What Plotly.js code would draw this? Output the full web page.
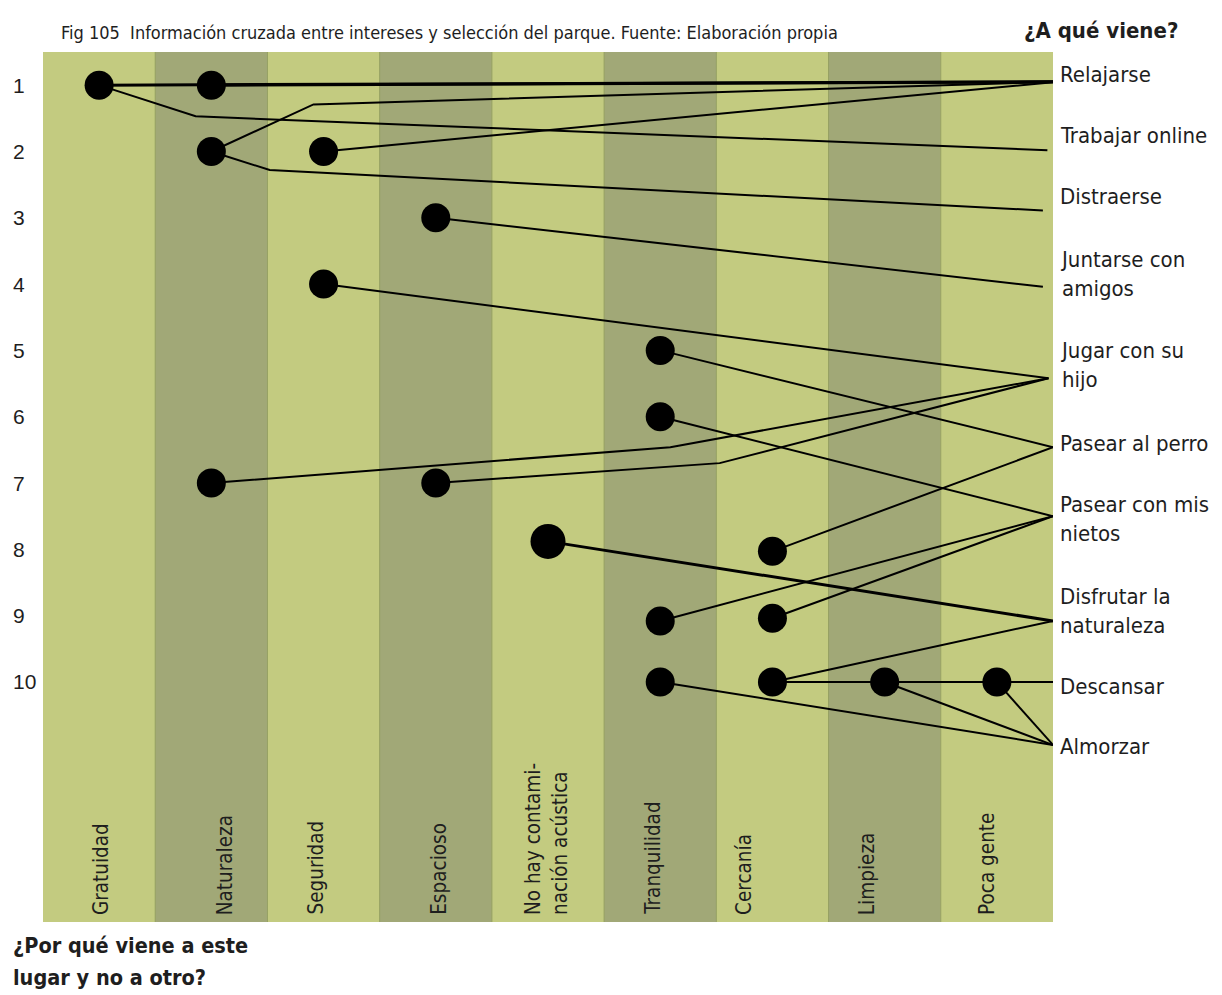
<!DOCTYPE html>
<html>
<head>
<meta charset="utf-8">
<script src="https://cdn.plot.ly/plotly-3.0.1.min.js"></script>
<style>html,body{margin:0;padding:0;background:#fff;}#chart{width:1222px;height:995px;}</style>
</head>
<body>
<div id="chart"></div>
<script>
// ---------- data ----------
const columns = ['Gratuidad', 'Naturaleza', 'Seguridad', 'Espacioso', 'No hay contami-<br>nación acústica', 'Tranquilidad', 'Cercanía', 'Limpieza', 'Poca gente'];
const rowLabels = ['1', '2', '3', '4', '5', '6', '7', '8', '9', '10'];
const activities = ['Relajarse', 'Trabajar online', 'Distraerse', 'Juntarse con<br>amigos', 'Jugar con su<br>hijo', 'Pasear al perro', 'Pasear con mis<br>nietos', 'Disfrutar la<br>naturaleza', 'Descansar', 'Almorzar'];
// where the links meet each activity (x in column units, y in row units)
const activityX = [8.53, 8.45, 8.41, 8.41, 8.46, 8.5, 8.5, 8.5, 8.53, 8.5];
const activityY = [0.95, 1.98, 2.89, 4.04, 5.42, 6.46, 7.50, 9.08, 10.0, 10.95];
// dots: column index and row
const dotCol = [0, 1, 1, 2, 3, 2, 5, 5, 1, 3, 4, 6, 5, 6, 5, 6, 7, 8];
const dotRow = [1, 1, 2, 2, 3, 4, 5, 6, 7, 7, 7.88, 8.03, 9.08, 9.04, 10, 10, 10, 10];
// links: from dot -> to activity, with optional bend point
const linkFrom = [0, 1, 0, 2, 3, 2, 4, 5, 6, 7, 8, 9, 10, 11, 12, 13, 15, 15, 14, 16, 17];
const linkTo   = [0, 0, 1, 0, 0, 2, 3, 4, 5, 6, 4, 4, 7, 5, 6, 6, 7, 8, 9, 9, 9];
const linkBendX = [null, null, 0.86, 1.91, null, 1.52, null, null, null, null, 5.09, 5.53, null, null, null, null, null, null, null, null, null];
const linkBendY = [null, null, 1.47, 1.29, null, 2.28, null, null, null, null, 6.46, 6.70, null, null, null, null, null, null, null, null, null];

// ---------- layout helpers ----------
const L = 43, R = 1053, T = 52, B = 922, W = 1222, H = 995;
const px = x => (x - L) / (R - L);
const py = y => (B - y) / (B - T);
const FONT = '"DejaVu Sans Condensed", "Liberation Sans Narrow", sans-serif';
const NUMFONT = '"Liberation Sans", Arial, sans-serif';
const TXT = '#1e1e1e';
const thick = new Set([0, 1, 12]);

const traces = [];
linkFrom.forEach((d, i) => {
  const xs = [dotCol[d]], ys = [dotRow[d]];
  if (linkBendX[i] !== null) { xs.push(linkBendX[i]); ys.push(linkBendY[i]); }
  xs.push(activityX[linkTo[i]]); ys.push(activityY[linkTo[i]]);
  traces.push({
    type: 'scatter', mode: 'lines', x: xs, y: ys, hoverinfo: 'skip',
    line: {color: '#000', width: thick.has(i) ? 3 : 2}, cliponaxis: false
  });
});
traces.push({
  type: 'scatter', mode: 'markers', x: dotCol, y: dotRow, hoverinfo: 'skip', opacity: 1,
  marker: {color: '#000', opacity: 1, size: dotRow.map((r, i) => i === 10 ? 35 : 29), line: {width: 0}},
  cliponaxis: false
});

const shapes = [];
columns.forEach((c, i) => {
  shapes.push({type: 'rect', xref: 'x', yref: 'paper', x0: i - 0.5, x1: i + 0.5, y0: 0, y1: 1,
    fillcolor: i % 2 === 0 ? '#c3cb80' : '#a1a877', line: {width: 0}, layer: 'below'});
});
for (let i = 1; i < columns.length; i++) {
  shapes.push({type: 'line', xref: 'x', yref: 'paper', x0: i - 0.5, x1: i - 0.5, y0: 0, y1: 1,
    line: {color: '#95a063', width: 1}, layer: 'below'});
}

const annotations = [];
const colShift = [2, 14, -8, 3, -2, -8, -29, -18, -10];
columns.forEach((c, i) => {
  annotations.push({xref: 'x', yref: 'paper', x: i, y: py(917), xshift: colShift[i],
    text: c, textangle: -90, showarrow: false, xanchor: 'center', yanchor: 'bottom', align: 'left',
    font: {family: FONT, size: 20.5, color: TXT}});
});
rowLabels.forEach((r, i) => {
  annotations.push({xref: 'paper', yref: 'y', x: px(11), y: i + 1, text: r, showarrow: false,
    xanchor: 'left', yanchor: 'middle', font: {family: NUMFONT, size: 21, color: TXT}});
});
const labelPY = [75, 136, 197, 274, 365, 443, 519, 611, 686, 746];
activities.forEach((a, i) => {
  annotations.push({xref: 'paper', yref: 'paper', x: px(1058), y: py(labelPY[i]), text: a, showarrow: false,
    xanchor: 'left', yanchor: 'middle', align: 'left', font: {family: FONT, size: 22, color: TXT}});
});
annotations.push({xref: 'paper', yref: 'paper', x: px(1022), y: py(30), text: '<b>¿A qué viene?</b>', showarrow: false,
  xanchor: 'left', yanchor: 'middle', font: {family: FONT, size: 22, color: TXT}});
annotations.push({xref: 'paper', yref: 'paper', x: px(59), y: py(33), text: 'Fig 105\u00a0 Información cruzada entre intereses y selección del parque. Fuente: Elaboración propia', showarrow: false,
  xanchor: 'left', yanchor: 'middle', font: {family: FONT, size: 18, color: TXT}});
annotations.push({xref: 'paper', yref: 'paper', x: px(11), y: py(945), text: '<b>¿Por qué viene a este</b>', showarrow: false,
  xanchor: 'left', yanchor: 'middle', font: {family: FONT, size: 21.5, color: TXT}});
annotations.push({xref: 'paper', yref: 'paper', x: px(11), y: py(977), text: '<b>lugar y no a otro?</b>', showarrow: false,
  xanchor: 'left', yanchor: 'middle', font: {family: FONT, size: 21.5, color: TXT}});

const layout = {
  width: W, height: H,
  margin: {l: L, r: W - R, t: T, b: H - B, pad: 0},
  paper_bgcolor: '#ffffff', plot_bgcolor: '#c3cb80',
  showlegend: false,
  xaxis: {range: [-0.5, 8.5], visible: false, fixedrange: true},
  yaxis: {range: [13.62, 0.5], visible: false, fixedrange: true},
  shapes: shapes, annotations: annotations
};
Plotly.newPlot('chart', traces, layout, {staticPlot: true, displayModeBar: false});
</script>
</body>
</html>
